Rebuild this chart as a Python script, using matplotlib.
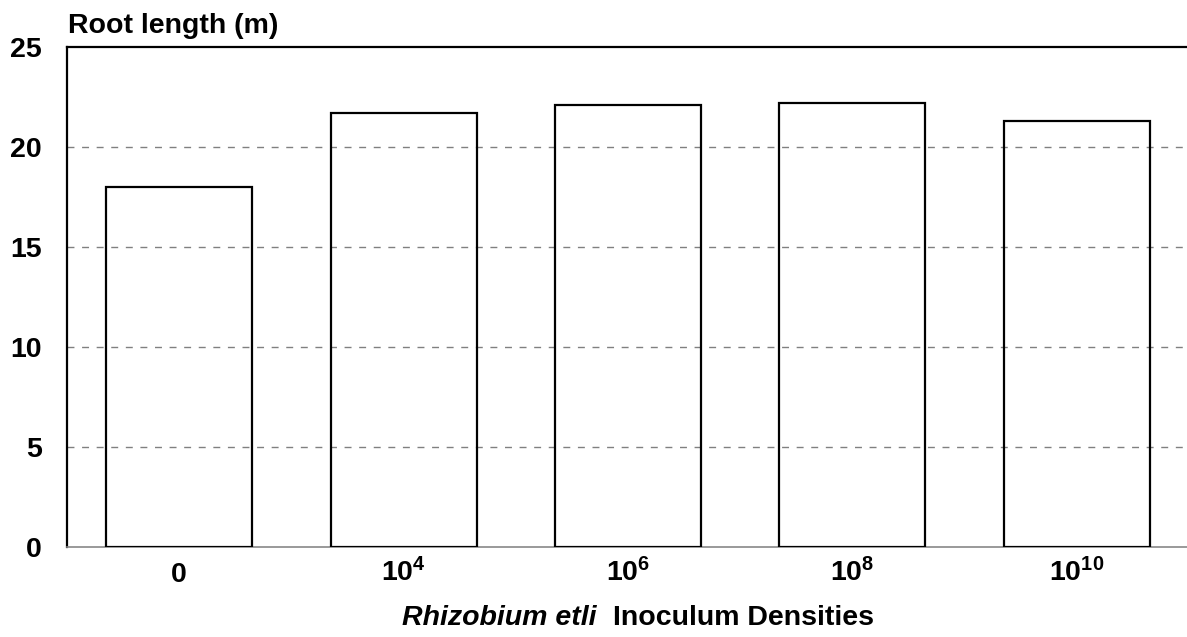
import matplotlib
matplotlib.use("Agg")
import matplotlib.pyplot as plt

categories = ["0", r"$\mathbf{10^{4}}$", r"$\mathbf{10^{6}}$", r"$\mathbf{10^{8}}$", r"$\mathbf{10^{10}}$"]
root_length = [18.0, 21.7, 22.1, 22.2, 21.3]
yticks = [0, 5, 10, 15, 20, 25]

plt.rcParams['font.family'] = ['Liberation Sans', 'DejaVu Sans']
plt.rcParams['mathtext.fontset'] = 'custom'
plt.rcParams['mathtext.rm'] = 'Liberation Sans:bold'
plt.rcParams['mathtext.bf'] = 'Liberation Sans:bold'
plt.rcParams['mathtext.it'] = 'Liberation Sans:bold:italic'

FS = 20.5
W, H = 1187, 637
fig = plt.figure(figsize=(W / 100, H / 100), dpi=100)
ax = fig.add_axes([67 / W, 1 - 547 / H, (1189 - 67) / W, (547 - 47) / H])

x = list(range(len(categories)))
ax.bar(x, root_length, width=0.65, facecolor="none", edgecolor="black", linewidth=1.6, zorder=3)

ax.set_xlim(-0.5, 4.5)
ax.set_ylim(0, 25)
ax.set_yticks(yticks)
ax.set_yticklabels([str(v) for v in yticks], fontsize=FS, fontweight="bold")
ax.set_xticks(x)
ax.set_xticklabels(categories, fontsize=FS, fontweight="bold", va="baseline")
ax.tick_params(axis="y", length=0, pad=18)
ax.tick_params(axis="x", length=0, pad=25)

for v in yticks[1:-1]:
    ax.axhline(v, color="#808080", linestyle=(0, (5, 5.5)), linewidth=1, zorder=1)

ax.spines["right"].set_visible(False)
ax.spines["left"].set_linewidth(1.6)
ax.spines["top"].set_linewidth(1.6)
ax.spines["bottom"].set_color("#888888")
ax.spines["bottom"].set_linewidth(1.2)

fig.text(68 / W, 1 - 33 / H, "Root length (m)", fontsize=FS, fontweight="bold", va="baseline", ha="left")
fig.text(597 / W, 1 - 625 / H, "Rhizobium etli", fontsize=FS, fontweight="bold", style="italic", va="baseline", ha="right")
fig.text(613 / W, 1 - 625 / H, "Inoculum Densities", fontsize=FS, fontweight="bold", va="baseline", ha="left")

fig.savefig("out.png", dpi=100)
